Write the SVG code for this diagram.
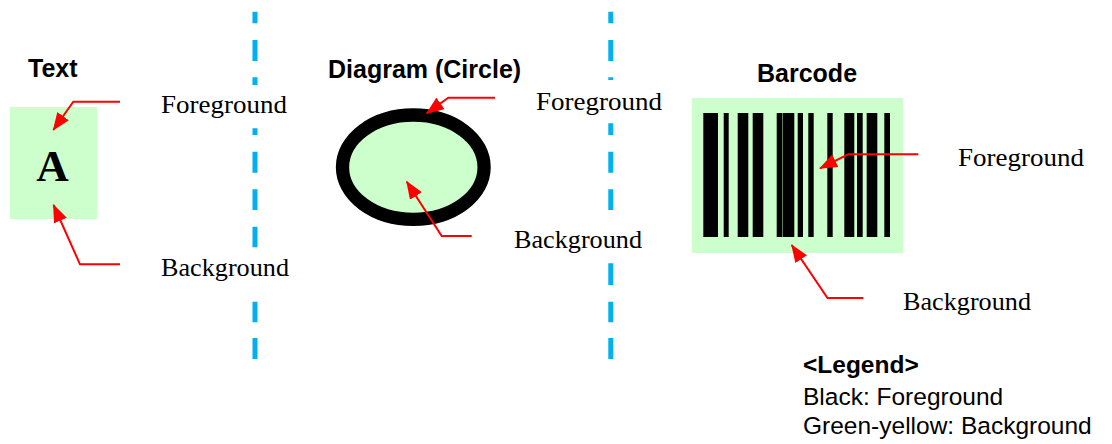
<svg xmlns="http://www.w3.org/2000/svg" width="1112" height="444" viewBox="0 0 1112 444">
  <style>
    .title { font-family: "Liberation Sans", Arial, sans-serif; font-weight: bold; font-size: 25px; fill: #000; }
    .lbl { font-family: "Liberation Serif", "Times New Roman", serif; font-size: 26px; fill: #000; }
    .legend { font-family: "Liberation Sans", Arial, sans-serif; font-size: 24.5px; fill: #000; }
    .bg { fill: #CCFFCC; }
    .bar { fill: #000; }
    .arrow { fill: none; stroke: #FF0000; stroke-width: 2; marker-end: url(#ah); }
    .sep { fill: none; stroke: #00B0F0; stroke-width: 5; }
  </style>
  <defs>
    <marker id="ah" markerUnits="userSpaceOnUse" markerWidth="18" markerHeight="14" refX="17" refY="7" orient="auto">
      <path d="M0,0 L18,7 L0,14 Z" fill="#FF0000"/>
    </marker>
  </defs>
  <rect width="1112" height="444" fill="#FFFFFF"/>

  <g id="separators">
    <path class="sep" d="M255,11.7V23.3 M255,40V61 M255,77.3V85 M255,128.3V135 M255,151.7V172.7 M255,189.3V210 M255,226.7V247.3 M255,301.7V322.3 M255,338V359"/>
    <path class="sep" d="M610.8,11.7V23.3 M610.8,40V61 M610.8,77.3V80 M610.8,123.3V135 M610.8,151.7V172.7 M610.8,189.3V210 M610.8,263.3V285 M610.8,301.7V322.3 M610.8,338V359"/>
  </g>

  <g id="text-example">
    <text class="title" x="28" y="77">Text</text>
    <rect class="bg" x="10" y="107" width="87" height="112"/>
    <text x="52.5" y="181" text-anchor="middle" font-family="'Liberation Serif', 'Times New Roman', serif" font-weight="bold" font-size="45">A</text>
  </g>

  <g id="circle-example">
    <text class="title" x="328" y="78">Diagram (Circle)</text>
    <ellipse cx="413.3" cy="167.2" rx="70.8" ry="52.2" fill="#CCFFCC" stroke="#000" stroke-width="13.3"/>
  </g>

  <g id="barcode-example">
    <text class="title" x="757" y="82">Barcode</text>
    <rect class="bg" x="692" y="98" width="211" height="155"/>
    <g class="bar">
      <rect x="703.3" y="113" width="14.7" height="124"/>
      <rect x="723.7" y="113" width="5" height="124"/>
      <rect x="737.7" y="113" width="10.6" height="124"/>
      <rect x="752.7" y="113" width="10.6" height="124"/>
      <rect x="776.7" y="113" width="5.6" height="124"/>
      <rect x="782.7" y="113" width="11.6" height="124"/>
      <rect x="797.7" y="113" width="5.3" height="124"/>
      <rect x="808.3" y="113" width="5.4" height="124"/>
      <rect x="827.3" y="113" width="5.4" height="124"/>
      <rect x="844.3" y="113" width="10" height="124"/>
      <rect x="857" y="113" width="5.7" height="124"/>
      <rect x="866.7" y="113" width="10.6" height="124"/>
      <rect x="884.3" y="113" width="5.7" height="124"/>
    </g>
  </g>

  <g id="labels">
    <text class="lbl" x="161" y="113" textLength="126" lengthAdjust="spacingAndGlyphs">Foreground</text>
    <text class="lbl" x="161" y="276" textLength="128" lengthAdjust="spacingAndGlyphs">Background</text>
    <text class="lbl" x="536" y="110" textLength="126" lengthAdjust="spacingAndGlyphs">Foreground</text>
    <text class="lbl" x="514" y="248" textLength="128" lengthAdjust="spacingAndGlyphs">Background</text>
    <text class="lbl" x="958" y="166" textLength="126" lengthAdjust="spacingAndGlyphs">Foreground</text>
    <text class="lbl" x="903" y="310" textLength="128" lengthAdjust="spacingAndGlyphs">Background</text>
  </g>

  <g id="connectors">
    <path class="arrow" d="M120,101.7 H73.3 L53.3,130"/>
    <path class="arrow" d="M120,264.3 H80 L53.5,205"/>
    <path class="arrow" d="M495,97.7 H448.3 L426.7,113.3"/>
    <path class="arrow" d="M471.7,236 H441.7 L406.7,181.7"/>
    <path class="arrow" d="M918.3,154.3 H848.3 L820,168.3"/>
    <path class="arrow" d="M863.3,298 H827.5 L791.7,245"/>
  </g>

  <g id="legend">
    <text class="legend" x="803" y="373" font-weight="bold">&lt;Legend&gt;</text>
    <text class="legend" x="803" y="405">Black: Foreground</text>
    <text class="legend" x="803" y="434">Green-yellow: Background</text>
  </g>
</svg>
